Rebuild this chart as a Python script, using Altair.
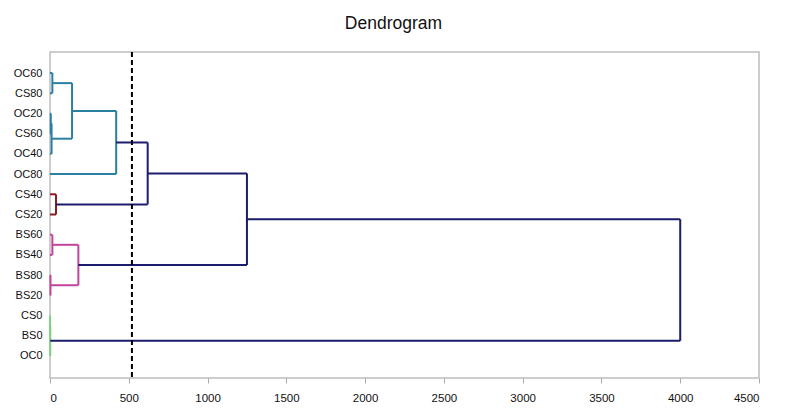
import altair as alt
import pandas as pd

# Leaves, top to bottom
leaves = ["OC60", "CS80", "OC20", "CS60", "OC40", "OC80", "CS40", "CS20",
          "BS60", "BS40", "BS80", "BS20", "CS0", "BS0", "OC0"]

# Linkage: children, merge height, branch colour group
merge_a = ["OC60", "OC20", "m1", "m0", "m3", "CS40", "m4", "BS60", "BS80", "m7", "m6", "CS0", "m11", "m10"]
merge_b = ["CS80", "CS60", "OC40", "m2", "OC80", "CS20", "m5", "BS40", "BS20", "m8", "m9", "BS0", "OC0", "m12"]
merge_h = [15, 5, 10, 140, 420, 38, 620, 15, 3, 180, 1250, 0.5, 1.5, 4000]
merge_g = ["teal", "teal", "teal", "teal", "teal", "red", "navy", "pink", "pink", "pink",
           "navy", "green", "green", "navy"]

cut_height = 520

x_ticks = list(range(0, 4501, 500))

group_names = ["teal", "red", "pink", "green", "navy"]
group_colors = ["#2B7FA0", "#8B1C22", "#C2449C", "#7CD27C", "#1C1C6E"]

# Build dendrogram segments from the linkage
pos = {name: (float(i), 0.0) for i, name in enumerate(leaves)}
rows = []
for k, (a, b, h, g) in enumerate(zip(merge_a, merge_b, merge_h, merge_g)):
    ya, ha = pos[a]
    yb, hb = pos[b]
    rows.append(dict(x=h, x2=h, y=ya, y2=yb, g=g, o=k))
    rows.append(dict(x=ha, x2=h, y=ya, y2=ya, g=g, o=k))
    rows.append(dict(x=hb, x2=h, y=yb, y2=yb, g=g, o=k))
    pos[f"m{k}"] = ((ya + yb) / 2, h)
seg = pd.DataFrame(rows)

label_expr = "[" + ",".join(f"'{n}'" for n in leaves) + "][datum.value]"

xscale = alt.Scale(domain=[0, 4500], nice=False, zero=False)
yscale = alt.Scale(domain=[-1.04, 15.09], reverse=True, nice=False, zero=False)

lines = alt.Chart(seg).mark_rule(strokeWidth=2).encode(
    x=alt.X("x:Q", scale=xscale, title=None,
            axis=alt.Axis(values=x_ticks, format="d", grid=False, domain=False, tickColor="#AAAAAA",
                          tickSize=5, labelPadding=9, labelFontSize=11.5,
                          labelColor="#111111", labelFont="Liberation Sans")),
    x2="x2:Q",
    y=alt.Y("y:Q", scale=yscale, title=None,
            axis=alt.Axis(values=list(range(len(leaves))), labelExpr=label_expr, grid=False,
                          domain=False, ticks=False, labelPadding=8, labelFontSize=11,
                          labelColor="#111111", labelFont="Liberation Sans")),
    y2="y2:Q",
    color=alt.Color("g:N", scale=alt.Scale(domain=group_names, range=group_colors), legend=None),
)

cut = alt.Chart(pd.DataFrame({"c": [cut_height]})).mark_rule(
    color="black", strokeWidth=2, strokeDash=[5, 3]
).encode(x=alt.X("c:Q", scale=xscale))

chart = alt.layer(lines, cut).properties(
    width=709, height=326,
    title=alt.TitleParams("Dendrogram", fontSize=17.5, font="Liberation Sans",
                          fontWeight="normal", color="#111111", offset=19, anchor="middle",
                          dx=-11),
    autosize=alt.AutoSizeParams(type="none"),
    padding={"left": 42, "top": 44, "right": 33, "bottom": 27},
).configure_view(stroke="#BDBDBD", strokeWidth=1.5)

chart.save("out.html", embed_options={"renderer": "svg", "actions": False})
